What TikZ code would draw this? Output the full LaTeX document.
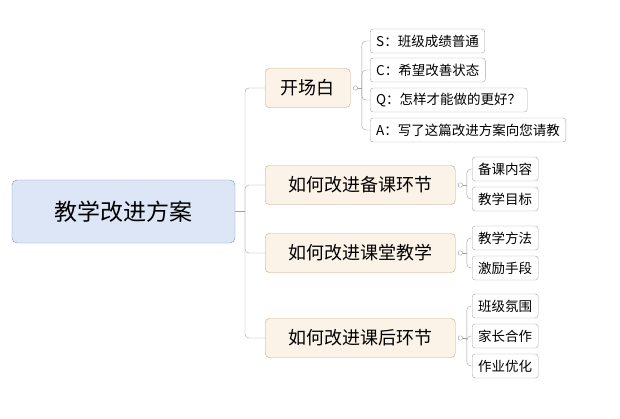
\documentclass[tikz,border=0pt]{standalone}
\usepackage{fontspec}
\newfontfamily\cjk{Noto Sans CJK SC}
\usetikzlibrary{positioning}
\definecolor{rootfill}{HTML}{DCE6F6}
\definecolor{rootline}{HTML}{7D92B8}
\definecolor{subfill}{HTML}{FBF2E8}
\definecolor{subline}{HTML}{C9A47E}
\definecolor{leafline}{HTML}{A8A8A8}
\definecolor{wire}{HTML}{A0A0A0}
\tikzset{
  rootbox/.style={draw=rootline,fill=rootfill,rounded corners=5pt,minimum width=223pt,minimum height=63pt,font=\cjk\fontsize{23}{26}\selectfont},
  subbox/.style={draw=subline,fill=subfill,rounded corners=4pt,minimum height=39pt,inner xsep=0pt,font=\cjk\fontsize{18}{21}\selectfont,anchor=west},
  leafbox/.style={draw=leafline,fill=white,rounded corners=3pt,minimum height=24pt,inner xsep=6pt,font=\cjk\fontsize{13.5}{16}\selectfont,anchor=west},
  knob/.style={draw=wire,fill=white,circle,inner sep=1.6pt},
  wirel/.style={draw=wire,thin,rounded corners=4pt}
}
\begin{document}
\begin{tikzpicture}[x=1pt,y=-1pt]
	\useasboundingbox (0,0) rectangle (620,418);

	\node[rootbox] (root) at (123.5,211.5) {教学改进方案};

	\node[subbox,minimum width=85pt] (open) at (265,88) {开场白};
	\node[subbox,minimum width=190pt] (prep) at (265,185) {如何改进备课环节};
	\node[subbox,minimum width=190pt] (class) at (265,253) {如何改进课堂教学};
	\node[subbox,minimum width=190pt] (after) at (265,338) {如何改进课后环节};

	\node[leafbox] (s) at (370,41) {S：班级成绩普通};
	\node[leafbox] (c) at (370,70) {C：希望改善状态};
	\node[leafbox] (q) at (370,100) {Q：怎样才能做的更好？};
	\node[leafbox] (a) at (370,130) {A：写了这篇改进方案向您请教};

	\node[leafbox] (p1) at (472,169) {备课内容};
	\node[leafbox] (p2) at (472,199) {教学目标};
	\node[leafbox] (k1) at (472,238) {教学方法};
	\node[leafbox] (k2) at (472,268) {激励手段};
	\node[leafbox] (h1) at (472,306) {班级氛围};
	\node[leafbox] (h2) at (472,336) {家长合作};
	\node[leafbox] (h3) at (472,366) {作业优化};

	% root to main branches
	\coordinate (trunk) at (245,211.5);
	\draw[wire,thin] (root.east) -- (trunk);
	\foreach \n in {open,prep,class,after}
		\draw[wirel] (trunk) |- (\n.west);

	% leaves
	\foreach \m/\leaves in {open/{s,c,q,a},prep/{p1,p2},class/{k1,k2},after/{h1,h2,h3}}{
		\node[knob] (\m k) at ([xshift=5pt]\m.east) {};
		\coordinate (\m t) at ([xshift=4pt]\m k.east);
		\draw[wire,thin] (\m k.east) -- (\m t);
		\foreach \l in \leaves
			\draw[wirel] (\m t) |- (\l.west);
	}
\end{tikzpicture}
\end{document}
